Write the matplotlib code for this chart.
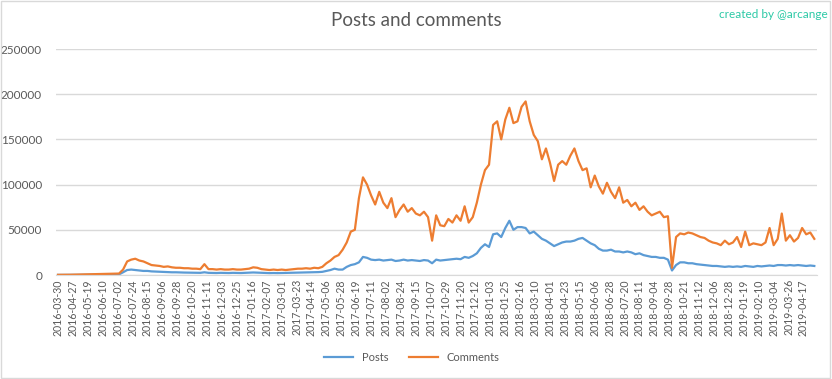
import numpy as np
import matplotlib.pyplot as plt
from matplotlib.patches import Rectangle

plt.rcParams["font.family"] = ["Lato", "DejaVu Sans"]

# category labels, one every 22 daily points
TICK_LABELS = [
    "2016-03-30", "2016-04-27", "2016-05-19", "2016-06-10", "2016-07-02", "2016-07-24",
    "2016-08-15", "2016-09-06", "2016-09-28", "2016-10-20", "2016-11-11", "2016-12-03",
    "2016-12-25", "2017-01-16", "2017-02-07", "2017-03-01", "2017-03-23", "2017-04-14",
    "2017-05-06", "2017-05-28", "2017-06-19", "2017-07-11", "2017-08-02", "2017-08-24",
    "2017-09-15", "2017-10-07", "2017-10-29", "2017-11-20", "2017-12-12", "2018-01-03",
    "2018-01-25", "2018-02-16", "2018-03-10", "2018-04-01", "2018-04-23", "2018-05-15",
    "2018-06-06", "2018-06-28", "2018-07-20", "2018-08-11", "2018-09-04", "2018-09-28",
    "2018-10-21", "2018-11-12", "2018-12-06", "2018-12-28", "2019-01-19", "2019-02-10",
    "2019-03-04", "2019-03-26", "2019-04-17",
]
LABEL_EVERY = 22
SAMPLE_EVERY = 6  # values below are read every 6th daily point

# thousands
comments_k = [
    0.2, 0.2, 0.3, 0.3, 0.4, 0.5, 0.6, 0.7, 0.8, 0.9, 1.0, 1.1, 1.2, 1.4, 1.5,
    1.6, 6, 15, 17, 18, 16, 15, 13, 11, 10.5, 10, 9, 9.5, 8.5, 8,
    8, 7.5, 7.5, 7, 7, 6.5, 12, 6.5, 6.5, 6, 6.5, 6, 6, 6.5, 6,
    6, 6.5, 7, 8.5, 8, 6.5, 6, 5.5, 6, 5.5, 6, 5.5, 6, 6.5, 7,
    7, 7.5, 7, 8, 7.5, 9, 13, 16, 20, 22, 28, 36, 48, 50, 85,
    108, 100, 88, 78, 92, 80, 74, 85, 64, 72, 78, 70, 74, 68, 66,
    70, 64, 38, 66, 55, 54, 62, 58, 66, 60, 76, 58, 64, 80, 100,
    116, 122, 166, 170, 150, 172, 185, 168, 170, 186, 192, 170, 155, 148, 128,
    140, 124, 104, 122, 126, 122, 132, 140, 126, 116, 118, 97, 110, 98, 90,
    102, 92, 85, 97, 80, 83, 76, 80, 72, 76, 70, 66, 68, 70, 64,
    65, 8, 42, 46, 45, 47, 46, 44, 42, 41, 38, 36, 35, 33, 38,
    34, 36, 42, 31, 48, 33, 35, 34, 33, 36, 52, 33, 40, 68, 38,
    44, 37, 41, 52, 45, 47, 40,
]
posts_k = [
    0.1, 0.1, 0.1, 0.2, 0.2, 0.2, 0.3, 0.3, 0.3, 0.4, 0.4, 0.4, 0.5, 0.5, 0.6,
    0.7, 3, 5.5, 6, 5.5, 5, 4.5, 4.5, 4, 3.8, 3.5, 3.3, 3.2, 3, 3,
    2.8, 2.7, 2.6, 2.5, 2.5, 2.4, 3, 2.4, 2.3, 2.2, 2.4, 2.3, 2.2, 2.4, 2.3,
    2.2, 2.4, 2.5, 2.8, 2.6, 2.3, 2.2, 2.1, 2.2, 2.1, 2.2, 2.2, 2.3, 2.4, 2.5,
    2.6, 2.7, 2.9, 3, 3.2, 3.5, 4.5, 5.5, 7, 6, 6, 9, 11, 12, 14,
    20, 19, 17, 16.5, 17, 16, 16.5, 17, 15.5, 16, 17, 16, 16.5, 16, 15.5,
    16.5, 16, 13, 17, 16, 16.5, 17, 17.5, 18, 17.5, 20, 19, 21, 24, 30,
    34, 31, 45, 46, 42, 52, 60, 50, 53, 53, 52, 46, 48, 44, 40,
    38, 35, 32, 34, 36, 37, 37, 38, 40, 41, 38, 35, 33, 29, 27,
    27, 28, 26, 26, 25, 26, 25, 23, 24, 22, 21, 20, 20, 19, 19,
    17, 5, 11, 14, 14, 13, 13, 12, 11.5, 11, 10.5, 10, 10, 9.5, 9,
    9.5, 9, 9.5, 9, 10, 9.5, 9, 10, 9.5, 10, 10.5, 10, 11, 11, 10.5,
    11, 10.5, 11, 10.5, 10, 10.5, 10,
]

BLUE = "#5B9BD5"
ORANGE = "#ED7D31"
TEXT = "#595959"
GRID = "#D9D9D9"

comments = np.array(comments_k) * 1000
posts = np.array(posts_k) * 1000
x = np.arange(len(comments)) * SAMPLE_EVERY

fig = plt.figure(figsize=(8.32, 3.79), dpi=100)
ax = fig.add_axes([0.0673, 0.2744, 0.9147, 0.5963])

ax.plot(x, posts, color=BLUE, linewidth=1.6, label="Posts")
ax.plot(x, comments, color=ORANGE, linewidth=1.6, label="Comments")

ax.set_ylim(0, 250000)
ax.set_yticks(np.arange(0, 250001, 50000))
ax.set_xlim(-3, x[-1] + 4)
ax.set_xticks(np.arange(len(TICK_LABELS)) * LABEL_EVERY)
ax.set_xticklabels(TICK_LABELS, rotation=90, fontsize=7.6, color=TEXT)
ax.tick_params(axis="y", labelsize=8.5, labelcolor=TEXT, length=0, pad=10)
ax.tick_params(axis="x", length=0, pad=3)

ax.grid(axis="y", color=GRID, linewidth=1)
ax.set_axisbelow(True)
for side in ["left", "right", "top"]:
    ax.spines[side].set_visible(False)
ax.spines["bottom"].set_color(GRID)

fig.text(0.5, 0.945, "Posts and comments", ha="center", va="center",
         fontsize=13.5, color=TEXT)
fig.text(0.995, 0.963, "created by @arcange", ha="right", va="center",
         fontsize=8.5, color="#2CC9A6")

fig.legend(loc="center", bbox_to_anchor=(0.495, 0.058), ncol=2, frameon=False,
           fontsize=8, handlelength=2.6, columnspacing=1.8, labelcolor=TEXT)

fig.patches.append(Rectangle((0.001, 0.002), 0.997, 0.995, transform=fig.transFigure,
                             fill=False, edgecolor="#D9D9D9", linewidth=1))

fig.savefig("out.png", dpi=100)
